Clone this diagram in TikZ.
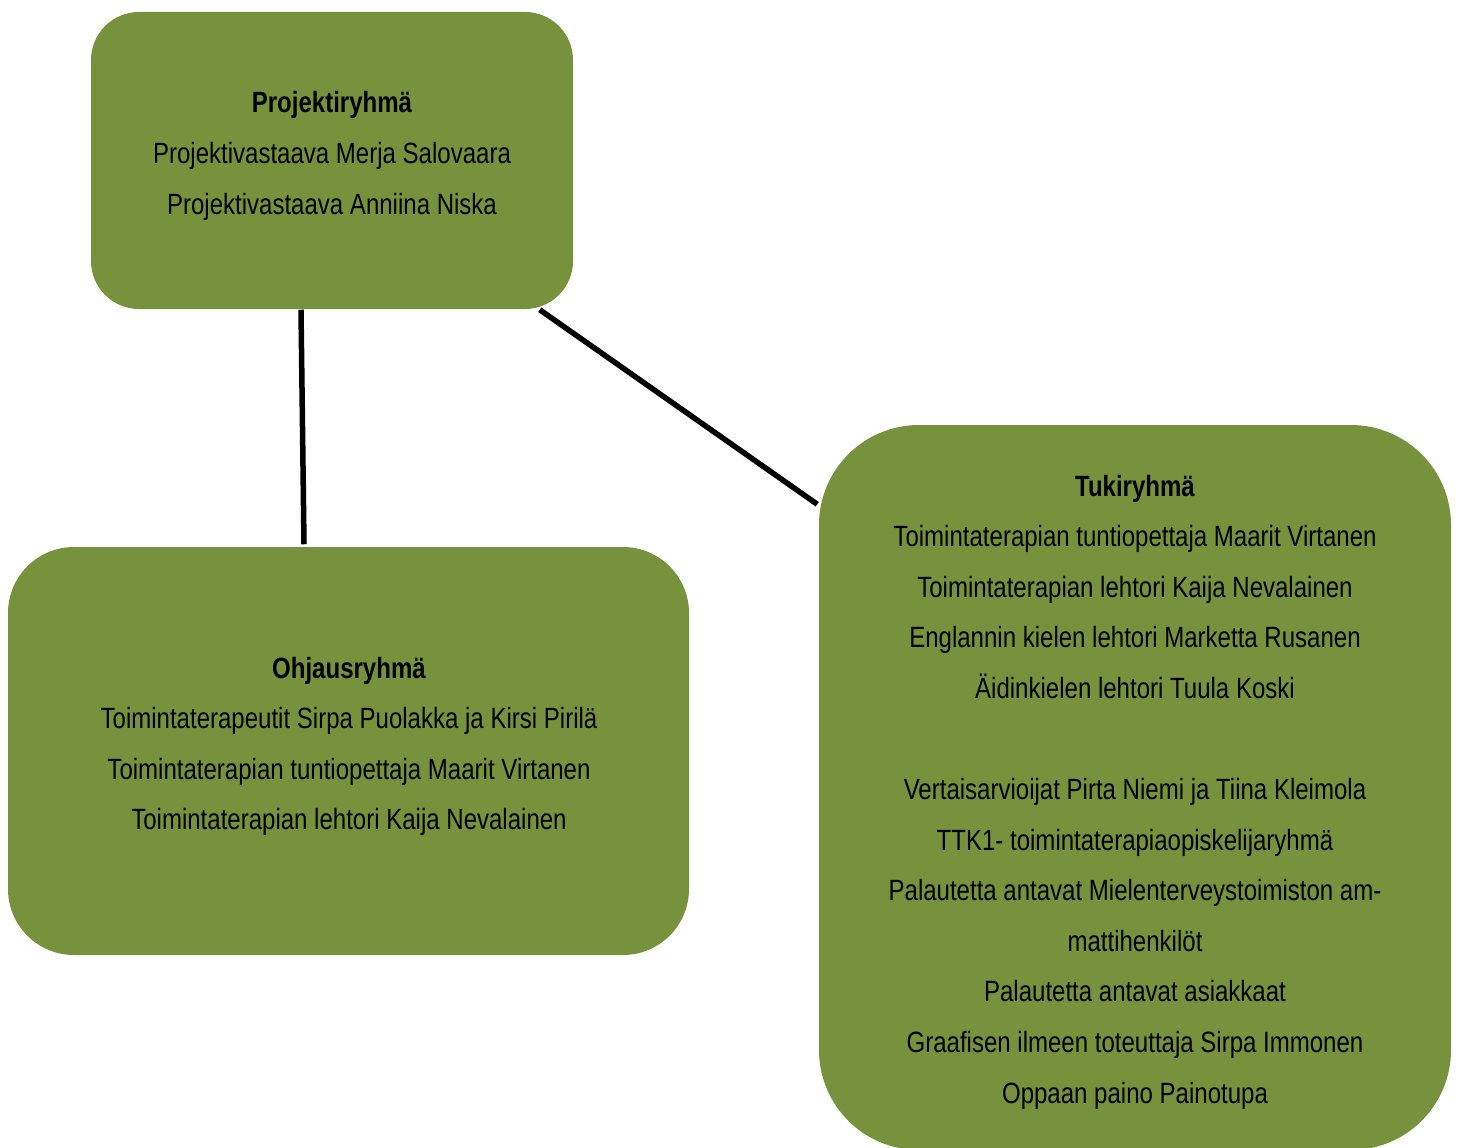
\documentclass[tikz,border=0pt]{standalone}
\usepackage{fontspec}
\setmainfont[FakeStretch=0.82]{Liberation Sans}
\usepackage{tikz}

\definecolor{oliivi}{HTML}{77923C}

\begin{document}
\begin{tikzpicture}[x=1pt,y=-1pt,line width=5.5pt,
            ryhma/.style={fill=oliivi,inner sep=0pt},
            teksti/.style={align=center,inner sep=0pt,
              font=\fontsize{29.3}{50.6}\selectfont}]

  \useasboundingbox (0,0) rectangle (1457,1148);

  \node[ryhma,minimum width=482pt,minimum height=297pt,rounded corners=48pt]
        (projekti) at (332,160.5) {};
  \node[ryhma,minimum width=681pt,minimum height=408pt,rounded corners=66pt]
        (ohjaus)   at (348.5,751) {};
  \node[ryhma,minimum width=632pt,minimum height=725pt,rounded corners=100pt]
        (tuki)     at (1135,787.5) {};

  \node[teksti] (projektiteksti) at (332,156) {\textbf{Projektiryhmä}\\
        Projektivastaava Merja Salovaara\\
        Projektivastaava Anniina Niska};
  \node[teksti] (ohjausteksti) at (349,746.5) {\textbf{Ohjausryhmä}\\
        Toimintaterapeutit Sirpa Puolakka ja Kirsi Pirilä\\
        Toimintaterapian tuntiopettaja Maarit Virtanen\\
        Toimintaterapian lehtori Kaija Nevalainen};
  \node[teksti] (tukiteksti) at (1135,792) {\textbf{Tukiryhmä}\\
        Toimintaterapian tuntiopettaja Maarit Virtanen\\
        Toimintaterapian lehtori Kaija Nevalainen\\
        Englannin kielen lehtori Marketta Rusanen\\
        Äidinkielen lehtori Tuula Koski\\[50.4pt]
        Vertaisarvioijat Pirta Niemi ja Tiina Kleimola\\
        TTK1- toimintaterapiaopiskelijaryhmä\\
        Palautetta antavat Mielenterveystoimiston am-\\
        mattihenkilöt\\
        Palautetta antavat asiakkaat\\
        Graafisen ilmeen toteuttaja Sirpa Immonen\\
        Oppaan paino Painotupa};

  \path ([xshift=-31pt,yshift=2pt]projekti.south) edge ([xshift=-44.5pt]ohjaus.north)
        ([xshift=-36pt,yshift=2pt]projekti.south east) edge ([xshift=1pt,yshift=-82pt]tuki.north west);
\end{tikzpicture}
\end{document}
